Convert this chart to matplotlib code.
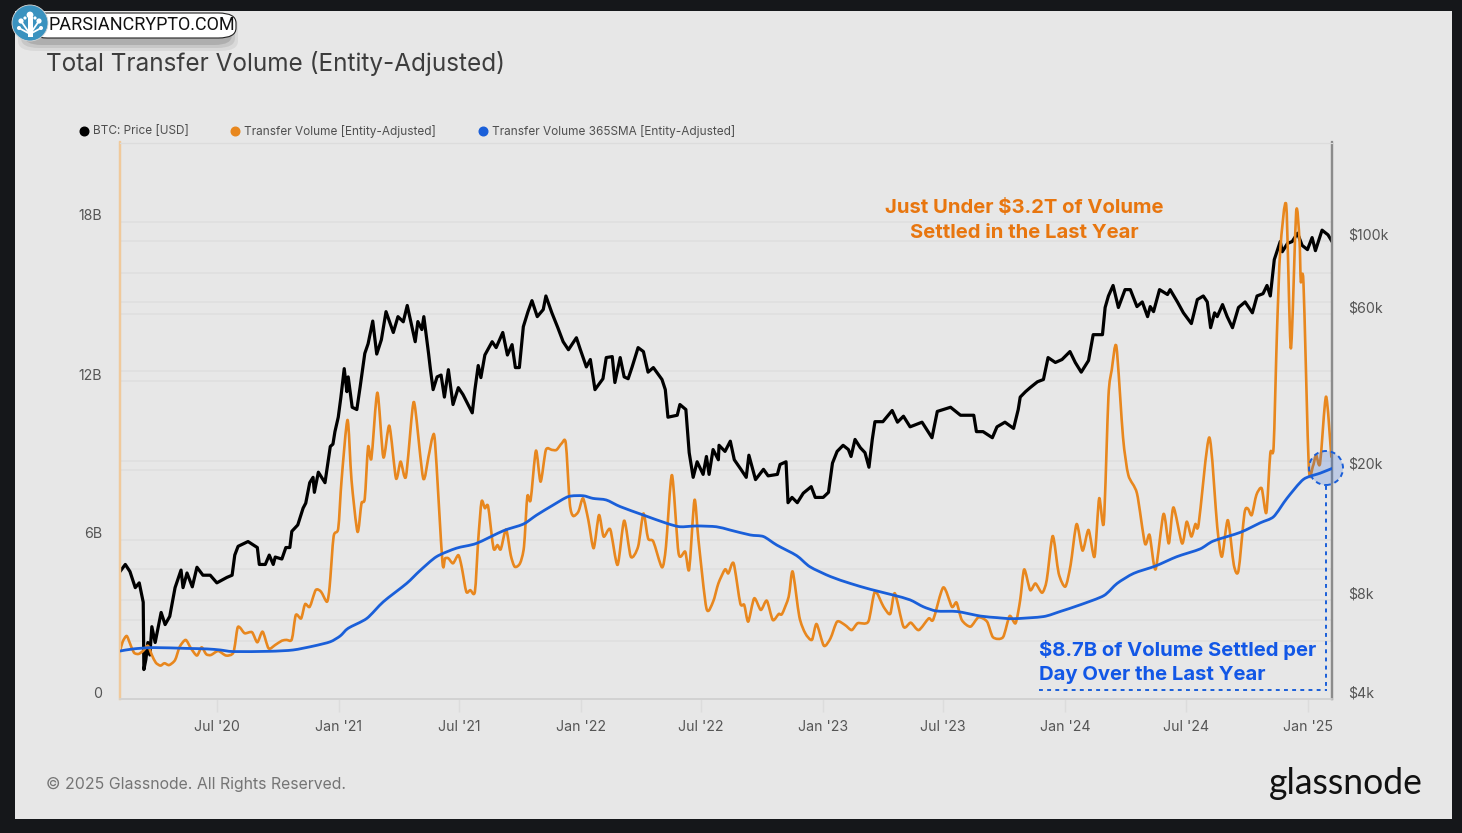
import matplotlib
matplotlib.use("Agg")
import matplotlib.pyplot as plt
import pandas as pd
from matplotlib.lines import Line2D
from matplotlib.patches import Rectangle, Ellipse, FancyBboxPatch, PathPatch
from matplotlib.path import Path
from matplotlib.ticker import NullLocator
from matplotlib.transforms import ScaledTranslation

plt.rcParams["font.family"] = ["Inter", "DejaVu Sans"]

# --- data (x = days since the start date) ---
START = pd.Timestamp("2020-02-06")
END = pd.Timestamp("2025-02-06")

price_days = [0, 8, 15, 23, 29, 35, 36, 39, 42, 45, 48, 53, 62, 68, 75, 83, 92, 95, 101, 109, 116, 125, 136, 146, 161, 169, 173, 178, 193, 207, 210, 219, 225, 231, 234, 244, 250, 256, 259, 268, 276, 280, 286, 291, 293, 299, 309, 317, 321, 324, 329, 333, 338, 342, 344, 350, 357, 362, 369, 374, 381, 387, 394, 401, 412, 419, 427, 433, 445, 449, 455, 458, 465, 468, 472, 478, 484, 489, 495, 502, 510, 517, 531, 535, 540, 544, 550, 561, 567, 577, 584, 591, 596, 602, 608, 615, 621, 629, 638, 642, 651, 660, 668, 676, 688, 694, 703, 709, 716, 728, 733, 742, 746, 754, 760, 766, 772, 781, 789, 796, 804, 817, 822, 826, 840, 844, 853, 858, 864, 870, 879, 884, 888, 894, 902, 903, 912, 920, 926, 936, 944, 948, 958, 970, 977, 991, 995, 1004, 1007, 1013, 1021, 1030, 1042, 1048, 1060, 1068, 1074, 1081, 1090, 1098, 1102, 1108, 1116, 1123, 1129, 1134, 1138, 1150, 1164, 1172, 1181, 1191, 1209, 1224, 1232, 1252, 1267, 1287, 1291, 1301, 1315, 1322, 1334, 1347, 1354, 1357, 1365, 1372, 1383, 1392, 1399, 1410, 1420, 1432, 1440, 1449, 1460, 1467, 1481, 1485, 1490, 1497, 1505, 1515, 1523, 1533, 1541, 1549, 1553, 1558, 1567, 1579, 1583, 1594, 1603, 1615, 1624, 1633, 1639, 1644, 1650, 1654, 1662, 1669, 1677, 1686, 1696, 1707, 1714, 1723, 1729, 1734, 1740, 1749, 1752, 1760, 1767, 1775, 1782, 1790, 1797, 1802, 1812, 1821, 1827]
price_k = [9.8, 10.3, 9.8, 8.75, 9.05, 7.9, 4.92, 5.28, 5.95, 5.45, 6.65, 5.95, 7.35, 6.75, 7.15, 8.75, 9.9, 8.75, 9.7, 8.8, 10.1, 9.55, 9.55, 9.05, 9.4, 9.55, 11.0, 11.7, 12.1, 11.6, 10.3, 10.3, 11.0, 10.3, 10.85, 10.7, 11.6, 11.6, 13.0, 13.6, 15.3, 15.85, 18.3, 19.0, 17.1, 19.7, 18.3, 23.6, 24.0, 26.2, 29.0, 33.4, 40.8, 34.7, 38.5, 31.1, 30.6, 35.9, 45.4, 48.6, 57.0, 45.2, 50.0, 60.9, 52.6, 58.8, 56.7, 63.6, 49.3, 56.8, 53.7, 58.8, 45.6, 40.5, 35.2, 38.5, 39.0, 33.4, 40.5, 31.7, 35.7, 34.0, 29.9, 35.2, 41.7, 38.3, 44.9, 49.3, 47.3, 52.6, 44.9, 48.3, 41.1, 41.1, 54.8, 60.9, 65.8, 58.8, 61.8, 68.0, 60.4, 54.4, 49.3, 46.6, 50.7, 46.6, 41.3, 43.5, 35.2, 38.0, 44.1, 44.4, 37.0, 44.1, 38.5, 38.0, 41.3, 47.3, 46.0, 39.8, 41.1, 37.8, 35.2, 29.0, 29.4, 31.7, 30.6, 22.6, 19.0, 21.2, 19.4, 22.0, 19.4, 23.1, 21.5, 23.8, 22.8, 24.5, 21.5, 20.1, 19.0, 22.2, 18.7, 20.1, 19.2, 19.4, 20.8, 21.2, 15.9, 16.5, 15.9, 17.0, 17.8, 16.5, 16.5, 17.1, 21.0, 22.8, 23.8, 23.1, 22.0, 24.8, 23.4, 22.6, 20.4, 24.8, 28.1, 28.1, 30.4, 28.0, 29.2, 27.1, 28.0, 25.1, 30.2, 31.1, 29.4, 29.4, 26.2, 26.2, 25.1, 27.1, 28.0, 26.8, 30.6, 33.4, 34.7, 35.7, 37.2, 37.8, 44.1, 42.6, 43.5, 46.0, 42.6, 39.8, 43.2, 51.8, 51.8, 62.7, 68.0, 73.2, 62.7, 71.1, 71.1, 63.1, 65.2, 58.8, 63.1, 60.9, 71.1, 68.7, 71.1, 65.2, 60.4, 56.0, 66.3, 68.0, 65.2, 54.4, 60.4, 58.8, 64.0, 58.8, 54.4, 62.7, 65.2, 60.4, 68.0, 69.1, 73.2, 68.0, 87.8, 99.7, 92.8, 98.4, 99.7, 105.7, 97.0, 94.2, 102.5, 93.5, 108.0, 104.5, 99.7]

volume_days = [0, 4, 10, 15, 21, 28, 35, 42, 48, 54, 61, 67, 74, 83, 90, 99, 107, 116, 123, 130, 137, 148, 160, 171, 177, 181, 188, 199, 207, 215, 224, 234, 244, 251, 259, 265, 273, 279, 286, 295, 303, 312, 316, 322, 329, 334, 343, 349, 358, 364, 369, 374, 379, 388, 397, 406, 416, 423, 431, 441, 445, 457, 465, 471, 475, 486, 490, 495, 502, 510, 515, 522, 528, 535, 540, 545, 550, 555, 563, 569, 574, 582, 589, 595, 603, 609, 614, 619, 627, 634, 642, 651, 658, 666, 672, 678, 683, 691, 698, 706, 714, 722, 729, 739, 750, 760, 770, 781, 789, 796, 804, 817, 823, 832, 842, 852, 858, 866, 872, 884, 894, 902, 912, 917, 925, 935, 941, 947, 956, 966, 975, 984, 993, 998, 1008, 1014, 1024, 1033, 1043, 1050, 1061, 1071, 1081, 1093, 1103, 1112, 1128, 1138, 1151, 1161, 1168, 1181, 1192, 1204, 1219, 1226, 1241, 1254, 1261, 1269, 1282, 1294, 1307, 1316, 1331, 1341, 1350, 1357, 1363, 1372, 1380, 1390, 1397, 1406, 1415, 1425, 1433, 1442, 1451, 1460, 1469, 1476, 1483, 1490, 1495, 1502, 1512, 1520, 1533, 1545, 1552, 1561, 1573, 1581, 1588, 1601, 1608, 1615, 1621, 1626, 1642, 1654, 1661, 1670, 1679, 1686, 1695, 1700, 1706, 1713, 1721, 1728, 1734, 1739, 1744, 1749, 1758, 1765, 1773, 1778, 1780, 1784, 1792, 1798, 1803, 1809, 1818, 1826]
volume_b = [1.79, 2.16, 2.38, 2.1, 1.75, 1.7, 1.82, 2.01, 1.66, 1.37, 1.26, 1.35, 1.28, 1.47, 1.97, 2.23, 1.91, 1.64, 1.95, 1.69, 1.66, 1.81, 1.64, 1.76, 2.67, 2.69, 2.48, 2.52, 2.14, 2.54, 1.91, 2.04, 2.2, 2.23, 2.25, 3.17, 3.04, 3.58, 3.48, 4.11, 4.05, 3.67, 4.24, 6.13, 6.44, 8.26, 10.53, 8.26, 6.31, 7.38, 7.57, 9.52, 9.08, 11.56, 9.12, 10.31, 8.33, 8.96, 8.39, 10.97, 10.97, 8.33, 9.14, 9.87, 9.65, 5.18, 5.31, 5.31, 5.12, 5.43, 4.99, 4.05, 4.11, 4.05, 6.0, 7.45, 7.2, 7.26, 5.69, 5.81, 5.65, 6.4, 5.43, 4.99, 5.12, 5.75, 7.64, 7.51, 9.37, 8.2, 9.4, 9.4, 9.4, 9.65, 9.65, 7.38, 6.91, 7.07, 7.57, 6.75, 5.69, 6.94, 6.13, 6.4, 5.06, 6.73, 5.37, 5.75, 7.0, 6.06, 5.94, 4.97, 5.75, 8.45, 5.5, 5.56, 4.89, 7.51, 6.0, 3.42, 3.67, 4.36, 4.89, 4.74, 5.12, 3.61, 3.55, 2.92, 3.8, 3.36, 3.71, 2.98, 3.21, 3.21, 3.86, 4.81, 3.11, 2.48, 2.23, 2.83, 2.01, 2.29, 2.92, 2.79, 2.6, 2.86, 2.92, 4.05, 3.48, 3.21, 3.99, 2.73, 2.88, 2.6, 3.04, 3.0, 4.21, 3.48, 3.64, 2.98, 2.73, 3.08, 2.92, 2.33, 2.33, 3.13, 2.86, 3.74, 4.89, 4.11, 4.36, 4.01, 4.49, 6.15, 4.74, 4.24, 5.06, 6.6, 5.6, 6.38, 5.37, 7.57, 6.65, 11.41, 12.42, 13.3, 9.87, 8.45, 7.76, 5.87, 6.19, 4.89, 6.98, 5.87, 7.23, 5.87, 6.69, 6.13, 6.6, 6.6, 9.87, 6.5, 5.37, 6.75, 5.06, 4.84, 7.0, 7.19, 6.94, 7.7, 7.95, 7.03, 9.27, 9.52, 13.8, 16.94, 18.64, 13.23, 18.39, 17.32, 15.75, 15.69, 8.77, 8.77, 9.21, 8.89, 11.41, 9.14]

sma_days = [0, 20, 50, 100, 131, 151, 171, 226, 261, 292, 317, 332, 344, 372, 397, 432, 452, 477, 507, 537, 578, 608, 628, 653, 676, 698, 713, 733, 754, 789, 824, 844, 869, 899, 919, 950, 970, 990, 1020, 1040, 1071, 1101, 1131, 1166, 1191, 1211, 1231, 1262, 1297, 1322, 1347, 1392, 1417, 1447, 1483, 1503, 1528, 1561, 1593, 1628, 1648, 1689, 1719, 1739, 1759, 1784, 1809, 1827]
sma_b = [1.81, 1.89, 1.94, 1.91, 1.89, 1.85, 1.79, 1.8, 1.85, 2.0, 2.16, 2.38, 2.67, 3.04, 3.67, 4.36, 4.84, 5.37, 5.69, 5.87, 6.35, 6.6, 6.94, 7.32, 7.64, 7.67, 7.57, 7.51, 7.26, 6.94, 6.63, 6.5, 6.53, 6.5, 6.38, 6.19, 6.13, 5.81, 5.41, 4.99, 4.62, 4.36, 4.14, 3.92, 3.74, 3.48, 3.32, 3.3, 3.13, 3.07, 3.03, 3.11, 3.3, 3.55, 3.9, 4.36, 4.74, 5.02, 5.37, 5.66, 5.96, 6.29, 6.65, 6.88, 7.57, 8.29, 8.52, 8.7]

x_tick_dates = ["2020-07-01", "2021-01-01", "2021-07-01", "2022-01-01", "2022-07-01", "2023-01-01",
                "2023-07-01", "2024-01-01", "2024-07-01", "2025-01-01"]
x_tick_labels = ["Jul '20", "Jan '21", "Jul '21", "Jan '22", "Jul '22", "Jan '23",
                 "Jul '23", "Jan '24", "Jul '24", "Jan '25"]
vol_ticks = [0, 6, 12, 18]
vol_tick_labels = ["0", "6B", "12B", "18B"]
vol_grid = [3, 6, 9, 12, 15, 18]
price_ticks = [4, 8, 20, 60, 100]
price_tick_labels = ["$4k", "$8k", "$20k", "$60k", "$100k"]
price_grid = [6, 8, 10, 20, 40, 60, 80, 100]

W, H = 1462, 833
BLACK, ORANGE, BLUE = "#000000", "#e8871e", "#1a5fd9"
TXT_ORANGE, TXT_BLUE = "#e8760f", "#1257e6"
GRID = "#dedede"


def fx(x):
    return x / W


def fy(y):
    return 1 - y / H


def smooth_line(axis, xs, ys, color, lw, zorder):
    # the original's lines are rounded, so join the read points with bezier segments
    verts = [(xs[0], ys[0])]
    codes = [Path.MOVETO]
    last = len(xs) - 1
    for i in range(last):
        x0, y0 = xs[max(i - 1, 0)], ys[max(i - 1, 0)]
        x1, y1 = xs[i], ys[i]
        x2, y2 = xs[i + 1], ys[i + 1]
        x3, y3 = xs[min(i + 2, last)], ys[min(i + 2, last)]
        verts += [(x1 + (x2 - x0) / 8, y1 + (y2 - y0) / 8),
                  (x2 - (x3 - x1) / 8, y2 - (y3 - y1) / 8),
                  (x2, y2)]
        codes += [Path.CURVE4, Path.CURVE4, Path.CURVE4]
    axis.add_patch(PathPatch(Path(verts, codes), facecolor="none", edgecolor=color, lw=lw,
                             capstyle="round", joinstyle="round", zorder=zorder))


fig = plt.figure(figsize=(W / 100, H / 100), dpi=100, facecolor="#15171a")
fig.add_artist(Rectangle((fx(15), fy(819)), 1437 / W, 808 / H, transform=fig.transFigure,
                         facecolor="#e7e7e7", edgecolor="none", zorder=-5))

# price goes on the base axes so the volume lines draw over it
ax = fig.add_axes([fx(120), fy(699), 1212 / W, 556.5 / H], facecolor="none")
ax_vol = ax.twinx()
ax_vol.patch.set_visible(False)

x_ticks = [(pd.Timestamp(d) - START).days for d in x_tick_dates]
x_end = (END - START).days

for v in price_grid:
    ax.axhline(v, color=GRID, lw=1.1, zorder=0)
for v in vol_grid:
    ax.plot([0, 1], [v / 21, v / 21], color=GRID, lw=1.1, transform=ax.transAxes, zorder=0)

ax.plot(price_days, price_k, color=BLACK, lw=2.3, solid_joinstyle="round", zorder=2)
smooth_line(ax_vol, volume_days, volume_b, ORANGE, 1.9, 2)
smooth_line(ax_vol, sma_days, sma_b, BLUE, 2.0, 3)

ax.set_xlim(0, x_end)
ax.set_yscale("log")
ax.set_ylim(4, 200)
ax_vol.set_ylim(0, 21)

ax.set_xticks(x_ticks)
ax.set_xticklabels(x_tick_labels, fontsize=10.2, color="#555555")
ax.tick_params(axis="x", length=9, width=1, color="#dcdcdc", pad=6)

ax.yaxis.tick_right()
ax.set_yticks(price_ticks)
ax.set_yticklabels(price_tick_labels, fontsize=10.2, color="#555555")
ax.yaxis.set_minor_locator(NullLocator())
ax.tick_params(axis="y", which="both", length=0, pad=11.5)

ax_vol.yaxis.tick_left()
ax_vol.set_yticks(vol_ticks)
ax_vol.set_yticklabels(vol_tick_labels, fontsize=10.2, color="#555555")
ax_vol.tick_params(axis="y", length=0, pad=13)

# tick labels sit above their gridlines in the original
up = ScaledTranslation(0, 7 / 100, fig.dpi_scale_trans)
for lbl in ax.get_yticklabels() + ax_vol.get_yticklabels():
    lbl.set_transform(lbl.get_transform() + up)

for a in (ax, ax_vol):
    a.spines["left"].set_color("#f0c99b")
    a.spines["left"].set_linewidth(1.6)
    a.spines["right"].set_color("#8c8c8c")
    a.spines["right"].set_linewidth(1.6)
    a.spines["top"].set_color("#dcdcdc")
    a.spines["bottom"].set_color("#d2d2d2")
    a.spines["bottom"].set_linewidth(1.2)

# --- highlight circle and dashed guides ---
fig.add_artist(Ellipse((fx(1326), fy(468)), 34 / W, 34 / H, transform=fig.transFigure,
                       facecolor=BLUE, alpha=0.2, edgecolor="none", zorder=5))
fig.add_artist(Ellipse((fx(1326), fy(468)), 34 / W, 34 / H, transform=fig.transFigure,
                       facecolor="none", edgecolor=BLUE, lw=1.4, ls=(0, (2.5, 2)), zorder=5))
fig.add_artist(Line2D([fx(1326), fx(1326)], [fy(486), fy(690)], color=BLUE, lw=1.4,
                      ls=(0, (2, 2.2)), zorder=5))
fig.add_artist(Line2D([fx(1039), fx(1327)], [fy(690), fy(690)], color=BLUE, lw=1.4,
                      ls=(0, (2, 2.2)), zorder=5))

fig.text(fx(1024), fy(220.5), "Just Under $3.2T of Volume\nSettled in the Last Year", color=TXT_ORANGE,
         fontsize=14.6, fontweight="bold", ha="center", va="center", linespacing=1.44)
fig.text(fx(1039), fy(662), "$8.7B of Volume Settled per\nDay Over the Last Year", color=TXT_BLUE,
         fontsize=14.6, fontweight="bold", ha="left", va="center", linespacing=1.44)

# --- title, legend, footer ---
fig.text(fx(46), fy(63.5), "Total Transfer Volume (Entity-Adjusted)", fontsize=17.5, color="#3d3d3d", va="center")

legend_items = [(84, 93, BLACK, "BTC: Price [USD]"),
                (235, 244, ORANGE, "Transfer Volume [Entity-Adjusted]"),
                (483, 492, BLUE, "Transfer Volume 365SMA [Entity-Adjusted]")]
for mx, tx, col, label in legend_items:
    fig.add_artist(Line2D([fx(mx)], [fy(130.5)], marker="o", ms=6.2, color=col, lw=0))
    fig.text(fx(tx), fy(131.5), label, fontsize=8.5, color="#4f4f4f", va="center")

fig.text(fx(46), fy(784), "© 2025 Glassnode. All Rights Reserved.", fontsize=11.4, color="#757575", va="center")
fig.text(fx(1269), fy(784), "glassnode", fontsize=25.6, color="#111111", va="center", family=["Lato", "DejaVu Sans"])

# --- watermark badge ---
for grow, alpha in [(6, 0.06), (3, 0.08), (0, 0.12)]:
    fig.add_artist(FancyBboxPatch((fx(24 - grow), fy(45 + grow)), (208 + 2 * grow) / W, (24 + 2 * grow) / H,
                                  transform=fig.transFigure, boxstyle="round,pad=0,rounding_size=0.012",
                                  facecolor="#000000", alpha=alpha, edgecolor="none", zorder=6))
fig.add_artist(FancyBboxPatch((fx(30), fy(38)), 206 / W, 25 / H, transform=fig.transFigure,
                              boxstyle="round,pad=0,rounding_size=0.012", facecolor="white",
                              edgecolor="#222222", lw=0.8, zorder=7))
fig.add_artist(Ellipse((fx(30), fy(23)), 36 / W, 36 / H, transform=fig.transFigure,
                       facecolor="#3a92bf", edgecolor="#d8d8d8", lw=0.6, zorder=8))
for bx, by, r in [(30, 15, 3.4), (21, 21, 2.6), (39, 21, 2.6), (19, 28, 2), (41, 28, 2), (25, 18, 1.6), (35, 18, 1.6)]:
    fig.add_artist(Ellipse((fx(bx), fy(by)), 2 * r / W, 2 * r / H, transform=fig.transFigure,
                           facecolor="white", edgecolor="none", zorder=9))
fig.add_artist(Rectangle((fx(27.5), fy(37)), 5 / W, 20 / H, transform=fig.transFigure,
                         facecolor="white", edgecolor="none", zorder=9))
for bx, by in [(21, 21), (39, 21), (19, 28), (41, 28)]:
    fig.add_artist(Line2D([fx(bx), fx(30)], [fy(by), fy(34)], color="white", lw=1.3, zorder=9))
fig.text(fx(48), fy(25.5), "PARSIANCRYPTO.COM", fontsize=13, color="#111111", va="center",
         family=["Roboto", "DejaVu Sans"], zorder=10)

fig.savefig("out.png", dpi=100, facecolor=fig.get_facecolor())
